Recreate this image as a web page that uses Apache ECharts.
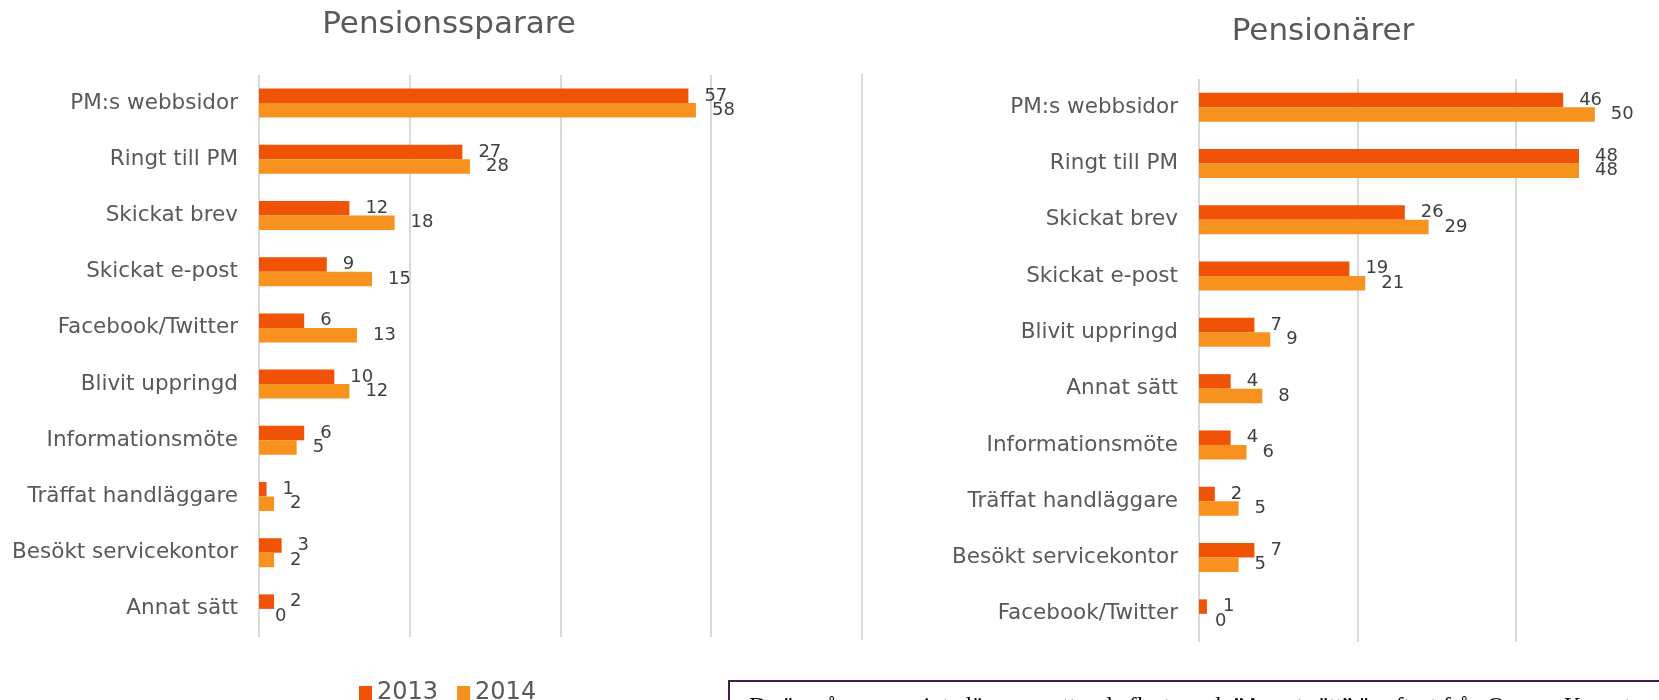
<!DOCTYPE html>
<html>
<head>
<meta charset="utf-8">
<title>Pensionssparare / Pensionärer</title>
<script src="https://cdn.jsdelivr.net/npm/echarts@6/dist/echarts.min.js"></script>
<style>
  html, body { margin: 0; padding: 0; background: #fff; overflow: hidden; }
  /* the canvas is wider than the window: the right panel runs past the picture's edge */
  #chart { width: 1674px; height: 700px; }
</style>
</head>
<body>
<div id="chart"></div>
<script>
// data
var years = ['2013', '2014'];

// Pensionssparare
var leftCategories = ['PM:s webbsidor', 'Ringt till PM', 'Skickat brev', 'Skickat e-post', 'Facebook/Twitter',
  'Blivit uppringd', 'Informationsmöte', 'Träffat handläggare', 'Besökt servicekontor', 'Annat sätt'];
var left2013 = [57, 27, 12, 9, 6, 10, 6, 1, 3, 2];
var left2014 = [58, 28, 18, 15, 13, 12, 5, 2, 2, 0];

// Pensionärer
var rightCategories = ['PM:s webbsidor', 'Ringt till PM', 'Skickat brev', 'Skickat e-post', 'Blivit uppringd',
  'Annat sätt', 'Informationsmöte', 'Träffat handläggare', 'Besökt servicekontor', 'Facebook/Twitter'];
var right2013 = [46, 48, 26, 19, 7, 4, 4, 2, 7, 1];
var right2014 = [50, 48, 29, 21, 9, 8, 6, 5, 5, 0];

var colors = ['#F05206', '#F7921E'];
var font = 'DejaVu Sans, Verdana, sans-serif';

var chart = echarts.init(document.getElementById('chart'));

function valueAxis(idx) {
  return {
    type: 'value',
    gridIndex: idx,
    min: 0,
    max: 60,
    interval: 20,
    axisLabel: { show: false },
    axisLine: { show: false },
    axisTick: { show: false },
    splitLine: { lineStyle: { color: '#D9D9D9', width: 2 } }
  };
}

function catAxis(idx, cats) {
  return {
    type: 'category',
    gridIndex: idx,
    inverse: true,
    data: cats,
    axisLine: { show: false },
    axisTick: { show: false },
    axisLabel: { color: '#595959', fontSize: 21.5, fontFamily: font, margin: 21 }
  };
}

function barSeries(name, idx, data, color) {
  return {
    name: name,
    type: 'bar',
    xAxisIndex: idx,
    yAxisIndex: idx,
    data: data,
    barWidth: 14.5,
    barGap: '0%',
    itemStyle: { color: color },
    label: {
      show: true,
      position: 'right',
      distance: 16,
      color: '#404040',
      fontSize: 18,
      fontFamily: font
    }
  };
}

var option = {
  animation: false,
  textStyle: { fontFamily: font },
  title: [
    { text: 'Pensionssparare', left: 444, top: 4, textAlign: 'center',
      textStyle: { color: '#595959', fontSize: 31, fontWeight: 'normal', fontFamily: font } },
    { text: 'Pensionärer', left: 1318, top: 11, textAlign: 'center',
      textStyle: { color: '#595959', fontSize: 31, fontWeight: 'normal', fontFamily: font } }
  ],
  legend: {
    data: years,
    left: 359,
    top: 681,
    padding: 0,
    icon: 'rect',
    itemWidth: 13,
    itemHeight: 14,
    itemGap: 19,
    textStyle: { color: '#595959', fontSize: 24, fontFamily: font }
  },
  grid: [
    { left: 259, width: 452, top: 75, bottom: 63 },
    { left: 1199, right: 0, top: 79, bottom: 58 }
  ],
  xAxis: [valueAxis(0), valueAxis(1)],
  yAxis: [catAxis(0, leftCategories), catAxis(1, rightCategories)],
  series: [
    barSeries(years[0], 0, left2013, colors[0]),
    barSeries(years[1], 0, left2014, colors[1]),
    barSeries(years[0], 1, right2013, colors[0]),
    barSeries(years[1], 1, right2014, colors[1])
  ],
  graphic: [
    // divider between the two panels
    { type: 'line', shape: { x1: 862, y1: 74, x2: 862, y2: 640 },
      style: { stroke: '#D9D9D9', lineWidth: 2 } },
    // note box, cut off at the bottom of the picture
    { type: 'rect', shape: { x: 729, y: 681, width: 960, height: 60 },
      style: { fill: '#fff', stroke: '#3B1E4A', lineWidth: 2 } },
    { type: 'text', left: 749, top: 695,
      style: { text: 'De är många som inte längre mottar de flesta, och ”Annat sätt” är oftast från Orange Kuvert',
        fill: '#000', fontSize: 24, fontFamily: 'Liberation Serif, serif' } }
  ]
};

chart.setOption(option);
</script>
</body>
</html>
